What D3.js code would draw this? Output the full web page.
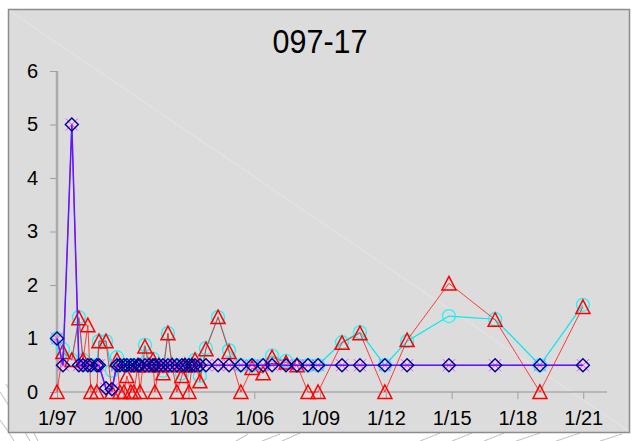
<!DOCTYPE html>
<html>
<head>
<meta charset="utf-8">
<script src="https://cdn.jsdelivr.net/npm/d3@7"></script>
<style>
  html, body { margin: 0; padding: 0; background: #ffffff; }
  svg { display: block; }
  text { font-family: Arial, "Liberation Sans", sans-serif; fill: #000; }
</style>
</head>
<body>
<svg id="chart" width="635" height="441"></svg>
<script>
// Sampling dates
const sampleDates = [
  "1997-01-01","1997-04-10","1997-09-05","1998-01-01","1998-03-10","1998-05-30",
  "1998-07-20","1998-10-26","1998-12-01","1999-03-28","1999-07-05","1999-09-26",
  "1999-11-15","2000-01-22","2000-03-10","2000-05-17","2000-07-05","2000-09-12",
  "2000-10-15","2001-01-05","2001-03-14","2001-05-19","2001-06-20","2001-08-26",
  "2001-11-02","2002-01-23","2002-04-01","2002-06-20","2002-09-12","2002-11-02",
  "2003-01-08","2003-02-27","2003-04-19","2003-07-09","2003-10-18","2004-05-07",
  "2004-11-06","2005-05-22","2005-11-24","2006-05-27","2006-10-24","2007-06-13",
  "2007-12-13","2008-06-13","2008-11-28","2010-01-01","2010-10-27","2011-12-16",
  "2012-12-20","2014-11-17","2016-12-25","2019-01-11","2020-12-27"
];

// Measured result (red triangles)
const measured = [
  0, 0.75, 0.6, 1.38, 0.6, 1.25,
  0, 0, 0.95, 0.95, 0, 0.6,
  0, 0, 0.3, 0, 0, 0.5,
  0, 0.85, 0.5, 0.6, 0, 0.5,
  0.35, 1.1, 0.5, 0, 0.3, 0.5,
  0, 0.5, 0.6, 0.2, 0.8, 1.4,
  0.75, 0, 0.45, 0.35, 0.65, 0.55,
  0.5, 0, 0, 0.92, 1.1, 0,
  0.97, 2.03, 1.35, 0, 1.59
];

// Reported value (cyan circles)
const reported = [
  1.0, 0.8, 0.6, 1.4, 0.6, 0.5,
  0.5, 0.5, 0.95, 0.95, 0.4, 0.65,
  0.5, 0.5, 0.5, 0.5, 0.5, 0.5,
  0.5, 0.88, 0.5, 0.62, 0.5, 0.5,
  0.4, 1.1, 0.5, 0.5, 0.35, 0.5,
  0.5, 0.5, 0.6, 0.3, 0.82, 1.4,
  0.78, 0.5, 0.5, 0.5, 0.68, 0.58,
  0.5, 0.5, 0.5, 0.93, 1.12, 0.5,
  0.95, 1.42, 1.36, 0.5, 1.63
];

// Detection limit (navy diamonds)
const detectionLimit = [
  1.0, 0.5, 5.0, 0.5, 0.5, 0.5,
  0.5, 0.5, 0.5, 0.07, 0.05, 0.5,
  0.5, 0.5, 0.5, 0.5, 0.5, 0.5,
  0.5, 0.5, 0.5, 0.5, 0.5, 0.5,
  0.5, 0.5, 0.5, 0.5, 0.5, 0.5,
  0.5, 0.5, 0.5, 0.5, 0.5, 0.5,
  0.5, 0.5, 0.5, 0.5, 0.5, 0.5,
  0.5, 0.5, 0.5, 0.5, 0.5, 0.5,
  0.5, 0.5, 0.5, 0.5, 0.5
];

// Reporting limit (magenta crosses)
const reportingLimit = [
  1.0, 0.5, 5.0, 0.5, 0.5, 0.5,
  0.5, 0.5, 0.5, 0.07, 0.05, 0.5,
  0.5, 0.5, 0.5, 0.5, 0.5, 0.5,
  0.5, 0.5, 0.5, 0.5, 0.5, 0.5,
  0.5, 0.5, 0.5, 0.5, 0.5, 0.5,
  0.5, 0.5, 0.5, 0.5, 0.5, 0.5,
  0.5, 0.5, 0.5, 0.5, 0.5, 0.5,
  0.5, 0.5, 0.5, 0.5, 0.5, 0.5,
  0.5, 0.5, 0.5, 0.5, 0.5
];

const yTicks = [0, 1, 2, 3, 4, 5, 6];
const xTickYears = [1997, 2000, 2003, 2006, 2009, 2012, 2015, 2018, 2021];
const chartTitle = "097-17";

const parse = d3.timeParse("%Y-%m-%d");
const dates = sampleDates.map(parse);

const svg = d3.select("#chart");

// Sketch strokes around the frame
const sketch = svg.append("g").attr("fill", "none").attr("stroke", "#c8c8c8").attr("stroke-width", 1.2);
[
  "M0,392 Q12,410 30,441", "M6,384 Q20,406 38,441", "M0,420 Q8,430 14,441",
  "M262,441 L280,434", "M282,441 L300,433", "M420,441 L440,433", "M452,441 L472,433",
  "M484,441 L504,433", "M516,441 L540,433", "M556,441 L580,433", "M600,441 L622,434",
  "M236,441 L248,434"
].forEach(d => sketch.append("path").attr("d", d));

// Chart frame
svg.append("rect")
  .attr("x", 8.5).attr("y", 9.5).attr("width", 621).attr("height", 423)
  .attr("fill", "#dcdcdc").attr("stroke", "#8c8c8c").attr("stroke-width", 1.5);

// Faint diagonal line across the frame
svg.append("line")
  .attr("x1", 10).attr("y1", 11).attr("x2", 629).attr("y2", 431)
  .attr("stroke", "#ffffff").attr("stroke-opacity", 0.3).attr("stroke-width", 1);

// Title
svg.append("text")
  .attr("x", 320).attr("y", 53)
  .attr("text-anchor", "middle")
  .attr("font-size", 34)
  .attr("textLength", 95).attr("lengthAdjust", "spacingAndGlyphs")
  .text(chartTitle);

const x = d3.scaleTime()
  .domain([new Date(1997, 0, 1), new Date(2022, 1, 1)])
  .range([57, 607]);
const y = d3.scaleLinear().domain([0, 6]).range([392, 71]);

// Y axis
const yAxis = svg.append("g")
  .attr("transform", "translate(57,0)")
  .call(d3.axisLeft(y).tickValues(yTicks).tickSize(7).tickPadding(12).tickFormat(d3.format("d")));
yAxis.select(".domain").attr("stroke", "#ababab").attr("stroke-width", 2.5).attr("d", "M0,71V392");
yAxis.selectAll(".tick line").attr("stroke", "#a0a0a0");
yAxis.selectAll(".tick text").attr("font-size", 20).attr("font-family", "Arial, 'Liberation Sans', sans-serif").attr("fill", "#000");

// X axis
const xAxis = svg.append("g")
  .attr("transform", "translate(0,392)")
  .call(d3.axisBottom(x)
    .tickValues(xTickYears.map(yr => new Date(yr, 0, 1)))
    .tickSize(7).tickPadding(12)
    .tickFormat(d3.timeFormat("%-m/%y")));
xAxis.select(".domain").attr("stroke", "#ababab").attr("stroke-width", 1.5).attr("d", "M57,0H607");
xAxis.selectAll(".tick line").attr("stroke", "#a0a0a0");
xAxis.selectAll(".tick text").attr("font-size", 20).attr("font-family", "Arial, 'Liberation Sans', sans-serif").attr("fill", "#000");

const lineOf = vals => d3.line()
  .x((d, i) => x(dates[i]))
  .y(d => y(d))(vals);

const plot = svg.append("g");

// Reported values: cyan line + circles
plot.append("path").attr("d", lineOf(reported))
  .attr("fill", "none").attr("stroke", "#00e8f0").attr("stroke-width", 1.2);
plot.selectAll(".circ").data(reported).join("circle")
  .attr("cx", (d, i) => x(dates[i])).attr("cy", d => y(d)).attr("r", 6.5)
  .attr("fill", "none").attr("stroke", "#22f4f8").attr("stroke-width", 1.3);

// Measured values: red line + triangles
plot.append("path").attr("d", lineOf(measured))
  .attr("fill", "none").attr("stroke", "#ff2020").attr("stroke-width", 1).attr("stroke-opacity", 0.85);
plot.selectAll(".tri").data(measured).join("path")
  .attr("transform", (d, i) => `translate(${x(dates[i])},${y(d)})`)
  .attr("d", "M0,-7L7,6.5L-7,6.5Z")
  .attr("fill", "none").attr("stroke", "#ff0000").attr("stroke-width", 1.5);

// Reporting limit: magenta crosses
plot.append("path").attr("d", lineOf(reportingLimit))
  .attr("fill", "none").attr("stroke", "#ff00ff").attr("stroke-width", 1);
plot.selectAll(".xm").data(reportingLimit).join("path")
  .attr("transform", (d, i) => `translate(${x(dates[i])},${y(d)})`)
  .attr("d", "M-6,-6L6,6M-6,6L6,-6")
  .attr("fill", "none").attr("stroke", "#ff44ff").attr("stroke-width", 1);

// Detection limit: violet line + navy diamonds
plot.append("path").attr("d", lineOf(detectionLimit))
  .attr("fill", "none").attr("stroke", "#5a1cff").attr("stroke-width", 1.5);
plot.selectAll(".dia").data(detectionLimit).join("path")
  .attr("transform", (d, i) => `translate(${x(dates[i])},${y(d)})`)
  .attr("d", "M0,-6.5L6.5,0L0,6.5L-6.5,0Z")
  .attr("fill", "none").attr("stroke", "#000090").attr("stroke-width", 1.4);
</script>
</body>
</html>
